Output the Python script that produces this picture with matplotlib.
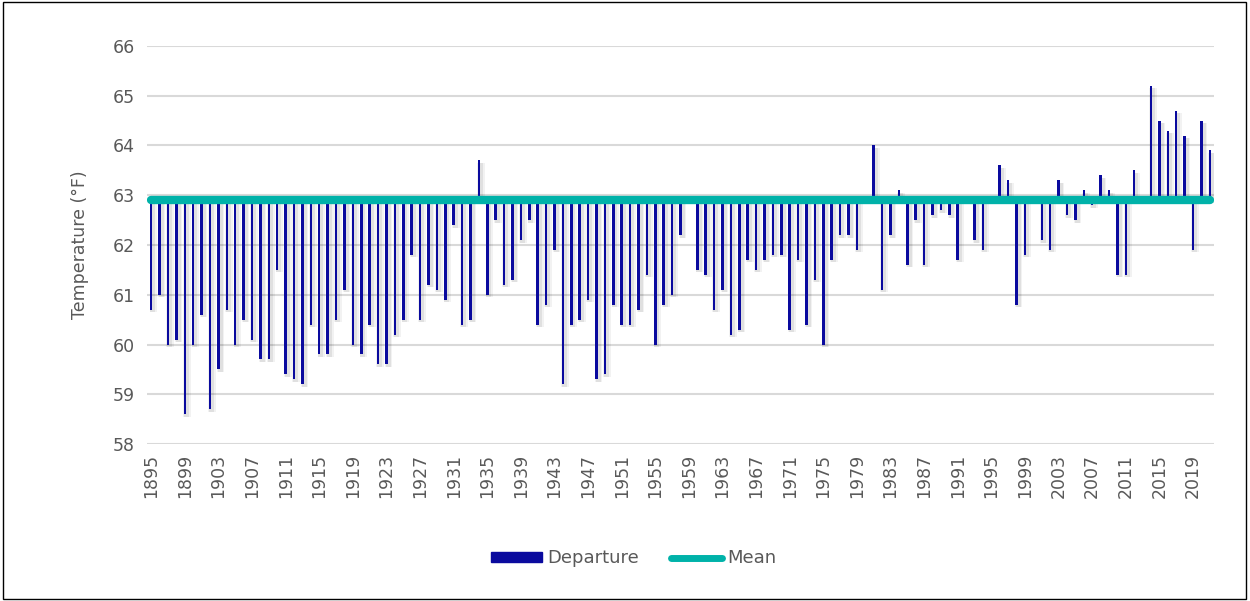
import matplotlib
matplotlib.use('Agg')
import matplotlib.pyplot as plt
import numpy as np
from matplotlib.patches import Patch, Rectangle
from matplotlib.lines import Line2D

# annual mean temperature (°F), 1895-2021
years = list(range(1895, 2022))
temps = [
    60.7, 61.0, 60.0, 60.1, 58.6, 60.0, 60.6, 58.7, 59.5, 60.7,  # 1895-1904
    60.0, 60.5, 60.1, 59.7, 59.7, 61.5, 59.4, 59.3, 59.2, 60.4,  # 1905-1914
    59.8, 59.8, 60.5, 61.1, 60.0, 59.8, 60.4, 59.6, 59.6, 60.2,  # 1915-1924
    60.5, 61.8, 60.5, 61.2, 61.1, 60.9, 62.4, 60.4, 60.5, 63.7,  # 1925-1934
    61.0, 62.5, 61.2, 61.3, 62.1, 62.5, 60.4, 60.8, 61.9, 59.2,  # 1935-1944
    60.4, 60.5, 60.9, 59.3, 59.4, 60.8, 60.4, 60.4, 60.7, 61.4,  # 1945-1954
    60.0, 60.8, 61.0, 62.2, 62.9, 61.5, 61.4, 60.7, 61.1, 60.2,  # 1955-1964
    60.3, 61.7, 61.5, 61.7, 61.8, 61.8, 60.3, 61.7, 60.4, 61.3,  # 1965-1974
    60.0, 61.7, 62.2, 62.2, 61.9, 62.9, 64.0, 61.1, 62.2, 63.1,  # 1975-1984
    61.6, 62.5, 61.6, 62.6, 62.7, 62.6, 61.7, 62.9, 62.1, 61.9,  # 1985-1994
    62.9, 63.6, 63.3, 60.8, 61.8, 62.9, 62.1, 61.9, 63.3, 62.6,  # 1995-2004
    62.5, 63.1, 62.8, 63.4, 63.1, 61.4, 61.4, 63.5, 62.9, 65.2,  # 2005-2014
    64.5, 64.3, 64.7, 64.2, 61.9, 64.5, 63.9,                    # 2015-2021
]
mean_temp = 62.9

yticks = list(range(58, 67))
xtick_years = years[::4]

BLUE = '#0A0A9E'
TEAL = '#00B2A9'
GREY = '#595959'

plt.rcParams['font.family'] = ['DejaVu Sans']

fig = plt.figure(figsize=(12.5, 6.01), dpi=100)
ax = fig.add_axes([0.1176, 0.2612, 0.8536, 0.6623])

x = np.array(years)
dep = np.array(temps) - mean_temp

# soft shadow behind the bars
for off, w, a in [(0.25, 0.9, 0.05), (0.2, 0.6, 0.07)]:
    ax.bar(x + off, dep, bottom=mean_temp - 0.05, width=w, color='#000000',
           alpha=a, linewidth=0, zorder=2)
ax.bar(x, dep, bottom=mean_temp, width=0.3, color=BLUE, linewidth=0, zorder=3)

ax.plot(x, [mean_temp] * len(x), color=TEAL, linewidth=6,
        solid_capstyle='round', zorder=4)

ax.set_xlim(years[0] - 0.5, years[-1] + 0.5)
ax.set_ylim(58, 66)
ax.set_yticks(yticks)
ax.set_xticks(xtick_years)
ax.set_xticklabels([str(y) for y in xtick_years], rotation=90)
ax.tick_params(axis='both', length=0, labelcolor=GREY, labelsize=12.5)
ax.tick_params(axis='y', pad=9)
ax.tick_params(axis='x', pad=7)
ax.grid(axis='y', color='#D9D9D9', linewidth=1.5, zorder=0)
ax.set_axisbelow(True)
for s in ax.spines.values():
    s.set_visible(False)

ax.set_ylabel('Temperature (°F)', color=GREY, fontsize=12.5, labelpad=17)

handles = [Patch(facecolor=BLUE, edgecolor=BLUE),
           Line2D([0], [0], color=TEAL, linewidth=5, solid_capstyle='round')]
fig.legend(handles, ['Departure', 'Mean'], loc='center', ncol=2,
           bbox_to_anchor=(0.507, 0.071), frameon=False, fontsize=13,
           labelcolor=GREY, handlelength=2.8, handleheight=0.5,
           handletextpad=0.3, columnspacing=1.8)

fig.patches.append(Rectangle((0.002, 0.004), 0.995, 0.992, transform=fig.transFigure,
                             fill=False, edgecolor='black', linewidth=1))

fig.savefig('out.png', dpi=100)
